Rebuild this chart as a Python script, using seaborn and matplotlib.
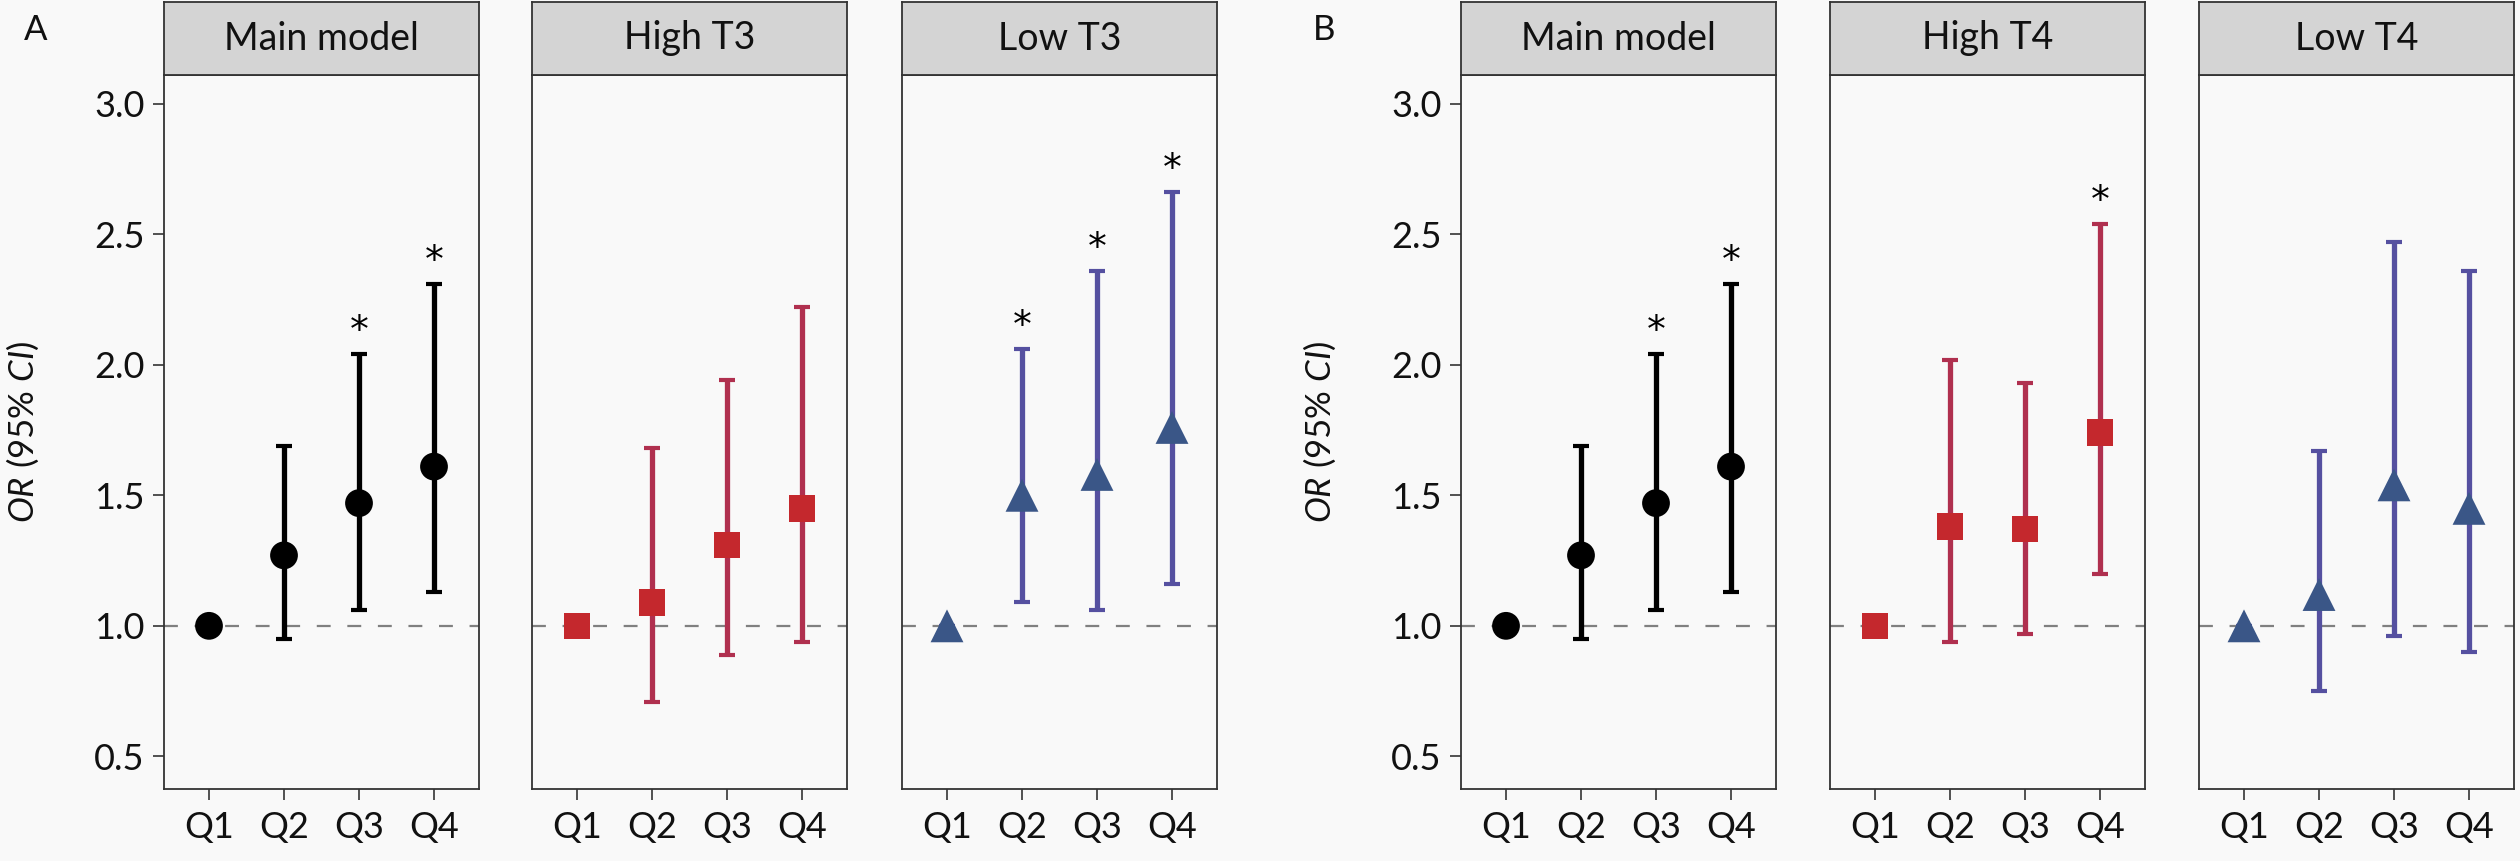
import matplotlib
matplotlib.use("Agg")
import matplotlib.pyplot as plt
import seaborn as sns
import numpy as np

# ---------------- data ----------------
quartiles = ["Q1", "Q2", "Q3", "Q4"]

main_or = [1.00, 1.27, 1.47, 1.61]
main_lo = [1.00, 0.95, 1.06, 1.13]
main_hi = [1.00, 1.69, 2.04, 2.31]
main_sig = [False, False, True, True]

high_t3_or = [1.00, 1.09, 1.31, 1.45]
high_t3_lo = [1.00, 0.71, 0.89, 0.94]
high_t3_hi = [1.00, 1.68, 1.94, 2.22]
high_t3_sig = [False, False, False, False]

low_t3_or = [1.00, 1.50, 1.58, 1.76]
low_t3_lo = [1.00, 1.09, 1.06, 1.16]
low_t3_hi = [1.00, 2.06, 2.36, 2.66]
low_t3_sig = [False, True, True, True]

high_t4_or = [1.00, 1.38, 1.37, 1.74]
high_t4_lo = [1.00, 0.94, 0.97, 1.20]
high_t4_hi = [1.00, 2.02, 1.93, 2.54]
high_t4_sig = [False, False, False, True]

low_t4_or = [1.00, 1.12, 1.54, 1.45]
low_t4_lo = [1.00, 0.75, 0.96, 0.90]
low_t4_hi = [1.00, 1.67, 2.47, 2.36]
low_t4_sig = [False, False, False, False]

panel_titles_a = ["Main model", "High T3", "Low T3"]
panel_titles_b = ["Main model", "High T4", "Low T4"]
y_ticks = [0.5, 1.0, 1.5, 2.0, 2.5, 3.0]
y_tick_labels = ["0.5", "1.0", "1.5", "2.0", "2.5", "3.0"]

# ---------------- style ----------------
sns.set_theme(style="white")
FONT = "Lato"
plt.rcParams["font.family"] = [FONT, "DejaVu Sans"]
plt.rcParams["mathtext.fontset"] = "custom"
plt.rcParams["mathtext.rm"] = FONT
plt.rcParams["mathtext.it"] = FONT + ":italic"
plt.rcParams["lines.scale_dashes"] = False

BG = "#F9F9F9"
EDGE = "#333333"
TXT = "#111111"
styles = {
    "main": dict(marker="o", mcolor="#000000", ecolor="#000000", s=400),
    "high": dict(marker="s", mcolor="#C4282D", ecolor="#B0304F", s=360),
    "low": dict(marker="^", mcolor="#3A5687", ecolor="#5550A0", s=560),
}

W, H = 2520, 861
fig = plt.figure(figsize=(W / 100, H / 100), dpi=100, facecolor=BG)

plot_top, plot_bot = 75, 789
strip_top = 2
pw = 315
lefts = [164, 532, 902, 1461, 1830, 2199]

panels = [
    (panel_titles_a[0], main_or, main_lo, main_hi, main_sig, "main"),
    (panel_titles_a[1], high_t3_or, high_t3_lo, high_t3_hi, high_t3_sig, "high"),
    (panel_titles_a[2], low_t3_or, low_t3_lo, low_t3_hi, low_t3_sig, "low"),
    (panel_titles_b[0], main_or, main_lo, main_hi, main_sig, "main"),
    (panel_titles_b[1], high_t4_or, high_t4_lo, high_t4_hi, high_t4_sig, "high"),
    (panel_titles_b[2], low_t4_or, low_t4_lo, low_t4_hi, low_t4_sig, "low"),
]

for i, (title, orv, lo, hi, sig, kind) in enumerate(panels):
    st = styles[kind]
    left = lefts[i]
    ax = fig.add_axes([left / W, 1 - plot_bot / H, pw / W, (plot_bot - plot_top) / H])
    ax.set_facecolor(BG)
    orv_a = np.array(orv)
    yerr = np.vstack([orv_a - np.array(lo), np.array(hi) - orv_a])
    ax.axhline(1.0, color="#808080", lw=1.6, dashes=(10, 12), zorder=1)
    ax.errorbar(quartiles, orv, yerr=yerr, fmt="none", ecolor=st["ecolor"],
                elinewidth=3.8, capsize=6, capthick=3.0, zorder=2)
    sns.scatterplot(x=quartiles, y=orv, marker=st["marker"], s=st["s"],
                    color=st["mcolor"], edgecolor="none", linewidth=0,
                    ax=ax, zorder=3, legend=False)
    for q, h, sg in zip(quartiles, hi, sig):
        if sg:
            ax.annotate("*", xy=(q, h), xytext=(0, 3), textcoords="offset points",
                        ha="center", va="bottom", fontsize=27, color="#000000",
                        family="DejaVu Sans")
    ax.set_xlim(-0.6, 3.6)
    ax.set_ylim(0.375, 3.11)
    ax.set_yticks(y_ticks)
    ax.set_xlabel("")
    ax.set_ylabel("")
    for sp in ax.spines.values():
        sp.set_color(EDGE)
        sp.set_linewidth(1.3)
    ax.tick_params(axis="x", which="both", bottom=True, length=8, width=1.3,
                   color="#444444", labelsize=26, pad=8, labelcolor=TXT)
    if i in (0, 3):
        ax.set_yticklabels(y_tick_labels)
        ax.tick_params(axis="y", left=True, length=8, width=1.3, color="#444444",
                       labelsize=26, pad=6, labelcolor=TXT)
        ax.set_ylabel(r"$\mathit{OR}$ (95% $\mathit{CI}$)", fontsize=25, labelpad=38,
                      color=TXT)
    else:
        ax.tick_params(axis="y", left=False, labelleft=False)

    sax = fig.add_axes([left / W, 1 - plot_top / H, pw / W, (plot_top - strip_top) / H])
    sax.set_facecolor("#D4D4D4")
    sax.set_xticks([])
    sax.set_yticks([])
    for sp in sax.spines.values():
        sp.set_color(EDGE)
        sp.set_linewidth(1.3)
    sax.text(0.5, 0.5, title, ha="center", va="center", fontsize=27,
             color=TXT, transform=sax.transAxes)

fig.text(36 / W, 1 - 30 / H, "A", ha="center", va="center", fontsize=25, color=TXT)
fig.text(1324 / W, 1 - 30 / H, "B", ha="center", va="center", fontsize=25, color=TXT)

fig.savefig("out.png", dpi=100, facecolor=BG)
